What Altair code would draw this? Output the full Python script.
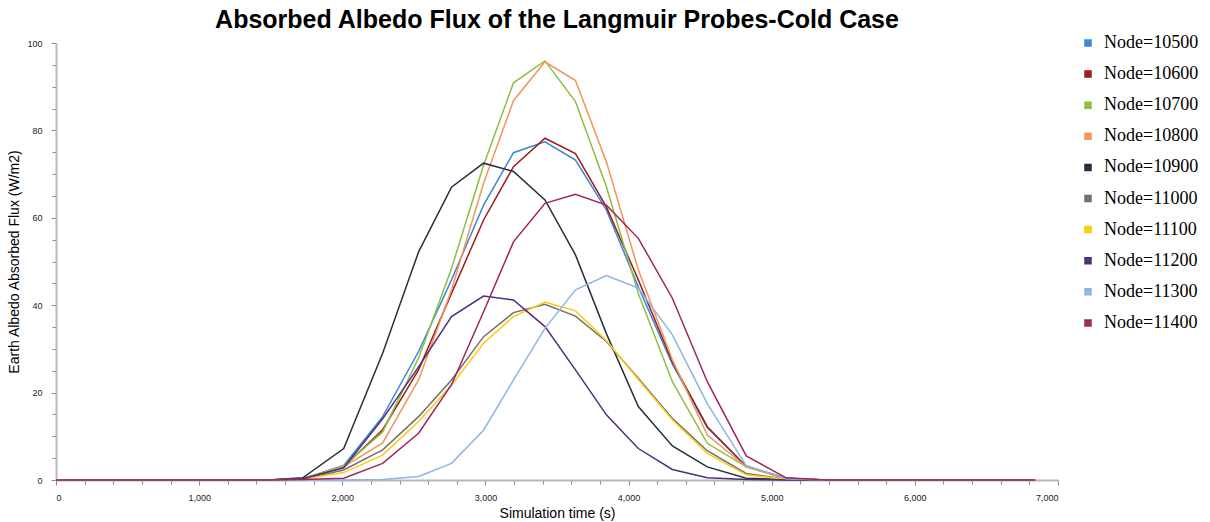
import altair as alt
import pandas as pd

# Simulation time (s)
time_s = [0, 1480, 1724, 2010, 2282, 2533, 2763, 2987, 3196, 3416, 3629, 3845,
          4068, 4306, 4550, 4822, 5101, 5380, 6840]

node_10500 = [0, 0, 0.3, 3.3, 14.5, 29.4, 45.8, 62.9, 74.9, 77.4, 73.2, 61.8, 44.2, 26.5, 12.0, 3.1, 0.4, 0, 0]
node_10600 = [0, 0, 0.3, 3.0, 11.5, 25.2, 42.7, 59.5, 71.7, 78.2, 74.7, 62.5, 45.8, 27.0, 12.2, 3.1, 0.4, 0, 0]
node_10700 = [0, 0, 0.3, 3.2, 11.0, 27.9, 48.4, 72.0, 90.9, 95.9, 86.6, 67.1, 42.7, 22.5, 8.4, 3.0, 0.3, 0, 0]
node_10800 = [0, 0, 0.3, 3.0, 8.5, 22.9, 43.5, 67.9, 86.8, 95.7, 91.4, 72.8, 48.1, 27.5, 10.3, 3.0, 0.4, 0, 0]
node_10900 = [0, 0, 0.5, 7.2, 29.0, 52.2, 67.0, 72.5, 70.6, 64.1, 51.5, 33.5, 16.8, 7.8, 3.0, 0.4, 0.1, 0, 0]
node_11000 = [0, 0, 0.2, 2.3, 6.9, 14.5, 22.9, 32.8, 38.3, 40.2, 37.5, 31.7, 23.3, 14.1, 6.7, 1.5, 0.2, 0, 0]
node_11100 = [0, 0, 0.2, 1.7, 5.7, 13.4, 21.7, 31.3, 37.4, 40.7, 38.7, 31.9, 23.0, 13.8, 6.1, 1.2, 0.2, 0, 0]
node_11200 = [0, 0, 0.3, 2.8, 14.0, 25.9, 37.4, 42.1, 41.2, 35.1, 25.2, 14.9, 7.2, 2.4, 0.5, 0.1, 0.0, 0, 0]
node_11300 = [0, 0, 0.0, 0.0, 0.1, 0.8, 3.8, 11.4, 22.9, 34.7, 43.5, 46.8, 43.9, 33.2, 17.5, 3.3, 0.3, 0, 0]
node_11400 = [0, 0, 0.1, 0.4, 3.8, 10.7, 21.8, 38.5, 54.5, 63.3, 65.4, 62.9, 55.3, 41.6, 22.5, 5.5, 0.5, 0, 0]

series_names = ["Node=10500", "Node=10600", "Node=10700", "Node=10800", "Node=10900",
                "Node=11000", "Node=11100", "Node=11200", "Node=11300", "Node=11400"]
series_values = [node_10500, node_10600, node_10700, node_10800, node_10900,
                 node_11000, node_11100, node_11200, node_11300, node_11400]
series_colors = ["#3a87d8", "#9c1c1c", "#8cbf3f", "#f0965a", "#22303f",
                 "#707070", "#ffc90e", "#4f2e7a", "#8db3e8", "#a0245e"]

x_ticks = list(range(0, 7001, 200))
y_ticks = list(range(0, 101, 5))

rows = []
for order, (name, vals) in enumerate(zip(series_names, series_values)):
    for t, v in zip(time_s, vals):
        rows.append({"time": t, "flux": v, "node": name, "order": order})
df = pd.DataFrame(rows)

chart = alt.Chart(df).mark_line(strokeWidth=1.5).encode(
    x=alt.X("time:Q",
            scale=alt.Scale(domain=[0, 7000], nice=False, zero=True),
            axis=alt.Axis(
                values=x_ticks,
                labelExpr="datum.value % 1000 === 0 ? format(datum.value, ',') : ''",
                tickSize={"condition": {"test": "datum.value % 1000 === 0", "value": 5}, "value": 4},
                title="Simulation time (s)",
                grid=False,
                labelPadding=8,
                titlePadding=4,
            )),
    y=alt.Y("flux:Q",
            scale=alt.Scale(domain=[0, 100], nice=False),
            axis=alt.Axis(
                values=y_ticks,
                labelExpr="datum.value % 20 === 0 ? format(datum.value, 'd') : ''",
                tickSize={"condition": {"test": "datum.value % 20 === 0", "value": 5}, "value": 4},
                title="Earth Albedo Absorbed Flux (W/m2)",
                grid=False,
                labelPadding=9,
                titlePadding=5,
            )),
    color=alt.Color("node:N",
                    scale=alt.Scale(domain=series_names, range=series_colors),
                    legend=alt.Legend(
                        title=None,
                        orient="none",
                        legendX=1023,
                        legendY=-9,
                        symbolType="square",
                        symbolSize=16,
                        symbolStrokeWidth=3.5,
                        labelFont="Liberation Serif",
                        labelFontSize=18,
                        labelColor="#000000",
                        labelOffset=7,
                        rowPadding=13.1,
                    )),
    order=alt.Order("order:Q"),
    detail="node:N",
).properties(
    width=1002,
    height=437,
    title=alt.TitleParams(
        "Absorbed Albedo Flux of the Langmuir Probes-Cold Case",
        font="Liberation Sans",
        fontSize=25,
        fontWeight="bold",
        anchor="middle",
        color="#000000",
        offset=1,
    ),
    autosize=alt.AutoSizeParams(type="none"),
    padding={"left": 56, "top": 43, "right": 152, "bottom": 42},
).configure_view(
    stroke=None,
).configure_axis(
    labelFont="Liberation Sans",
    labelFontSize=9,
    labelColor="#222222",
    titleFont="Liberation Sans",
    titleFontSize=14,
    titleFontWeight="normal",
    titleColor="#000000",
    domainColor="#b8b8b8",
    domainWidth=2,
    tickColor="#8a8a8a",
    tickWidth=1,
)

chart.save("out.html", embed_options={"renderer": "svg", "actions": False})
